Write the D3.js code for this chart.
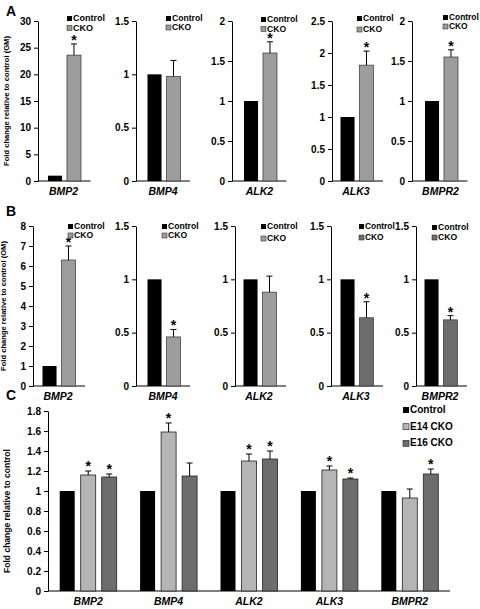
<!DOCTYPE html>
<html><head><meta charset="utf-8">
<script src="https://cdn.jsdelivr.net/npm/d3@7/dist/d3.min.js"></script>
<style>body{margin:0;background:#fff}svg{display:block}text{font-family:"Liberation Sans",Arial,sans-serif;font-weight:bold}</style>
</head><body><svg id="c" width="480" height="609"></svg>
<script>
// ---------- data ----------
const genes = ["BMP2","BMP4","ALK2","ALK3","BMPR2"];
const pairSeries = ["Control","CKO"];
// Panel A (GM)
const aControl = [1,1,1,1,1];
const aCKO = [23.6,0.98,1.6,1.81,1.55];
const aCKOErr = [2.1,0.15,0.14,0.22,0.09];
const aMax = [30,1.5,2,2.5,2];
const aStep = [5,0.5,0.5,0.5,0.5];
const aSig = [true,false,true,true,true];
// Panel B (OM)
const bControl = [1,1,1,1,1];
const bCKO = [6.3,0.46,0.88,0.64,0.62];
const bCKOErr = [0.7,0.07,0.15,0.15,0.04];
const bMax = [8,1.5,1.5,1.5,1.5];
const bStep = [1,0.5,0.5,0.5,0.5];
const bSig = [true,true,false,true,true];
// Panel C
const cSeries = ["Control","E14 CKO","E16 CKO"];
const cControl = [1,1,1,1,1];
const cE14 = [1.16,1.59,1.30,1.21,0.93];
const cE14Err = [0.04,0.09,0.07,0.04,0.09];
const cE16 = [1.14,1.15,1.32,1.12,1.17];
const cE16Err = [0.03,0.13,0.08,0.01,0.05];
const cSigE14 = [true,true,true,true,false];
const cSigE16 = [true,false,true,true,true];
const cTicks = [0,0.2,0.4,0.6,0.8,1,1.2,1.4,1.6,1.8];

// ---------- styles / layout ----------
const LIGHT = "#9d9d9d", LIGHTC = "#b5b5b5", DARK = "#6d6d6d";
const bCKOColors = [LIGHT, LIGHT, LIGHT, DARK, DARK];
const svg = d3.select("#c");
svg.append("rect").attr("width",480).attr("height",609).attr("fill","#fff");
const fmt = d => String(+d.toFixed(2));

function asterisk(g, x, yTop){
  g.append("text").attr("x",x).attr("y",yTop+4).attr("text-anchor","middle")
   .attr("font-size",14).attr("font-weight","normal").text("*");
}
function errBar(g, x, y0, y1){
  g.append("line").attr("x1",x).attr("x2",x).attr("y1",y0).attr("y2",y1).attr("stroke","#000").attr("stroke-width",1);
  g.append("line").attr("x1",x-3).attr("x2",x+3).attr("y1",y1).attr("y2",y1).attr("stroke","#000").attr("stroke-width",1);
}

function smallPanel(opts){
  const {axisX, center, yTop, yBot, max, step, ctrl, cko, err, sig, ckoColor, legX, legY, legGap, legFont, label} = opts;
  const g = svg.append("g");
  const y = d3.scaleLinear().domain([0,max]).range([yBot,yTop]);
  const x = d3.scaleBand().domain(pairSeries).range([center-16.5, center+16.5]).paddingInner(0.26).paddingOuter(0);
  const ticks = d3.range(0, max+step/2, step);
  const ax = g.append("g").attr("transform",`translate(${axisX},0)`)
    .call(d3.axisLeft(y).tickValues(ticks).tickFormat(fmt).tickSize(4).tickSizeOuter(0));
  ax.select(".domain").attr("stroke","#000");
  ax.selectAll(".tick line").attr("stroke","#000");
  ax.selectAll("text").attr("font-size",10).attr("fill","#000").attr("font-family","Liberation Sans, Arial").attr("font-weight","bold");
  g.append("line").attr("x1",axisX).attr("x2",center+26).attr("y1",yBot).attr("y2",yBot).attr("stroke","#000");
  g.append("rect").attr("x",x("Control")).attr("y",y(ctrl)).attr("width",x.bandwidth()).attr("height",yBot-y(ctrl)).attr("fill","#000");
  g.append("rect").attr("x",x("CKO")).attr("y",y(cko)).attr("width",x.bandwidth()).attr("height",yBot-y(cko))
    .attr("fill",ckoColor).attr("stroke","#333").attr("stroke-width",0.7);
  const ex = x("CKO")+x.bandwidth()/2;
  errBar(g, ex, y(cko), y(cko+err));
  if(sig) asterisk(g, ex, y(cko+err)-3);
  g.append("text").attr("x",center-1).attr("y",yBot+14).attr("text-anchor","middle").attr("font-size",10.5).attr("font-style","italic").text(label);
  // legend
  [["Control","#000"],["CKO",ckoColor]].forEach((d,i)=>{
    const ly = legY + i*legGap;
    g.append("rect").attr("x",legX).attr("y",ly-5).attr("width",5).attr("height",5).attr("fill",d[1]).attr("stroke",i?"#333":"none").attr("stroke-width",0.6);
    g.append("text").attr("x",legX+6).attr("y",ly).attr("font-size",legFont).text(d[0]);
  });
}

// Panel A
const aAxisX = [38,136,232,332,412];
const centers = [64.5,164,260.5,357,441.5];
const aLegX = [67,166,261,357,443];
const aLegY = [21,21,22,21,20];
const aLegGap = [9.5,9,9.5,11,9];
const aLegFont = [9,8.6,8.6,8.6,8.4];
genes.forEach((gname,i)=>smallPanel({axisX:aAxisX[i],center:centers[i],yTop:21,yBot:181,max:aMax[i],step:aStep[i],
  ctrl:aControl[i],cko:aCKO[i],err:aCKOErr[i],sig:aSig[i],ckoColor:LIGHT,legX:aLegX[i],legY:aLegY[i],legGap:aLegGap[i],legFont:aLegFont[i],label:gname}));

// Panel B
const bAxisX = [33,136,235,331,416];
const bCenters = [59,164,260,357,441];
const bLegX = [68,162,261,359,432];
const bLegY = [229,229,229,229,230];
const bLegGap = [9,9,12,11,10];
const bLegFont = [8.6,8.6,8.6,8.4,8.6];
genes.forEach((gname,i)=>smallPanel({axisX:bAxisX[i],center:bCenters[i],yTop:226,yBot:386,max:bMax[i],step:bStep[i],
  ctrl:bControl[i],cko:bCKO[i],err:bCKOErr[i],sig:bSig[i],ckoColor:bCKOColors[i],legX:bLegX[i],legY:bLegY[i],legGap:bLegGap[i],legFont:bLegFont[i],label:gname}));

// Panel C
(function(){
  const g = svg.append("g");
  const yTop = 411, yBot = 591, left = 48, right = 450;
  const y = d3.scaleLinear().domain([0,1.8]).range([yBot,yTop]);
  const x0 = d3.scaleBand().domain(genes).range([left,right]);
  const x1 = d3.scaleBand().domain(cSeries).range([-28.5,28.5]).paddingInner(0.286).paddingOuter(0);
  const ax = g.append("g").attr("transform",`translate(${left},0)`)
    .call(d3.axisLeft(y).tickValues(cTicks).tickFormat(fmt).tickSize(4).tickSizeOuter(0));
  ax.select(".domain").attr("stroke","#000");
  ax.selectAll(".tick line").attr("stroke","#000");
  ax.selectAll("text").attr("font-size",10).attr("fill","#000").attr("font-family","Liberation Sans, Arial").attr("font-weight","bold");
  g.append("line").attr("x1",left).attr("x2",right).attr("y1",yBot).attr("y2",yBot).attr("stroke","#000");
  const vals = [cControl,cE14,cE16], errs=[null,cE14Err,cE16Err], sigs=[null,cSigE14,cSigE16];
  const cols = ["#000",LIGHTC,DARK];
  genes.forEach((gname,i)=>{
    const c = x0(gname)+x0.bandwidth()/2;
    cSeries.forEach((s,j)=>{
      const v = vals[j][i];
      g.append("rect").attr("x",c+x1(s)).attr("y",y(v)).attr("width",x1.bandwidth()).attr("height",yBot-y(v))
        .attr("fill",cols[j]).attr("stroke",j? "#222":"none").attr("stroke-width",0.8);
      if(errs[j]){
        const ex = c+x1(s)+x1.bandwidth()/2;
        const top = y(v+errs[j][i]);
        errBar(g, ex, y(v), top);
        if(sigs[j][i]) asterisk(g, ex, top-4);
      }
    });
    g.append("text").attr("x",c).attr("y",605).attr("text-anchor","middle").attr("font-size",10.5).attr("font-style","italic").text(gname);
  });
  cSeries.forEach((s,j)=>{
    const ly = 413 + j*16.7;
    g.append("rect").attr("x",403).attr("y",ly-6).attr("width",6).attr("height",6).attr("fill",cols[j]).attr("stroke",j?"#222":"none").attr("stroke-width",0.6);
    g.append("text").attr("x",410).attr("y",ly).attr("font-size",10).text(s);
  });
  g.append("text").attr("transform","translate(10,511) rotate(-90)").attr("text-anchor","middle").attr("font-size",8.5).text("Fold change relative to control");
})();

// Y labels A/B and panel letters
svg.append("text").attr("transform","translate(9,101) rotate(-90)").attr("text-anchor","middle").attr("font-size",7.6).text("Fold change relative to control (GM)");
svg.append("text").attr("transform","translate(6,306) rotate(-90)").attr("text-anchor","middle").attr("font-size",7.6).text("Fold change relative to control (OM)");
svg.append("text").attr("x",6).attr("y",16).attr("font-size",14).text("A");
svg.append("text").attr("x",6).attr("y",216).attr("font-size",14).text("B");
svg.append("text").attr("x",6).attr("y",400).attr("font-size",14).text("C");
</script></body></html>
